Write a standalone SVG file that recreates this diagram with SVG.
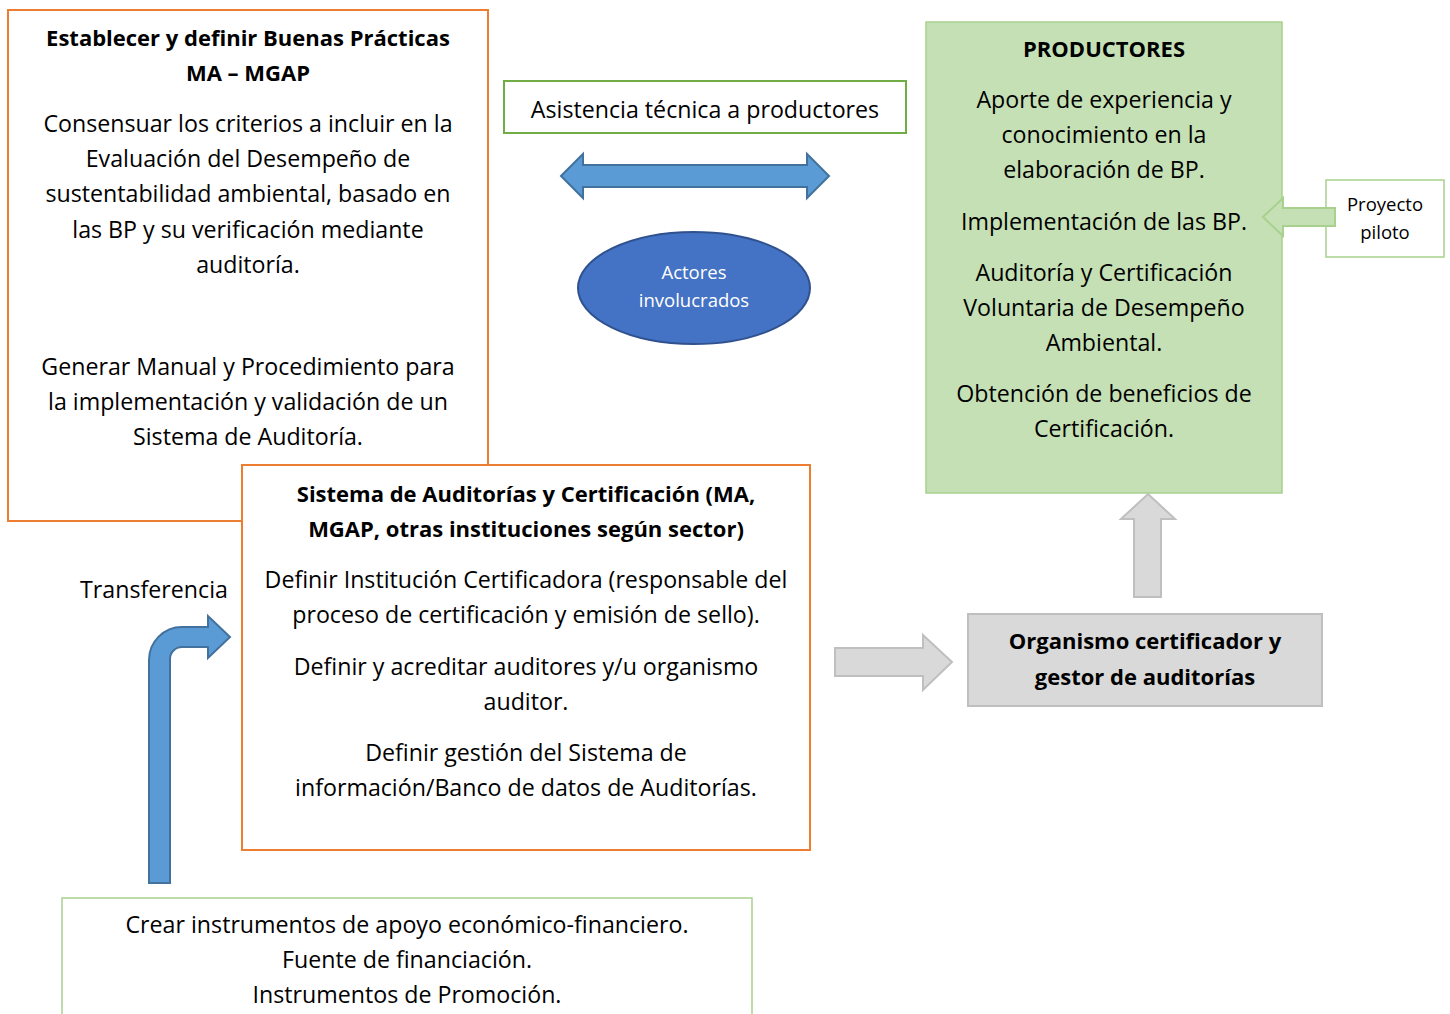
<svg xmlns="http://www.w3.org/2000/svg" width="1450" height="1014" viewBox="0 0 1450 1014">
<style>
text{font-family:"Open Sans",Lato,"Liberation Sans",sans-serif;font-size:23.2px;fill:#000;text-anchor:middle}
.b{font-weight:bold;font-size:22px}
.sm{font-size:18.5px}
.w{fill:#fff}
.orange{fill:#fff;stroke:#ED7D31;stroke-width:2}
.grn{fill:#fff;stroke:#70AD47;stroke-width:2}
.lgrn{fill:#fff;stroke:#A9D18E;stroke-width:1.5}
.blue{fill:#5B9BD5;stroke:#41719C;stroke-width:2}
.grey{fill:#D9D9D9;stroke:#BFBFBF;stroke-width:2}
</style>
<rect width="1450" height="1014" fill="#fff"/>
<g id="buenas-practicas">
<rect class="orange" x="8" y="10" width="480" height="511"/>
<text class="b" x="248" y="46">Establecer y definir Buenas Prácticas</text>
<text class="b" x="248" y="81">MA – MGAP</text>
<text x="248" y="132">Consensuar los criterios a incluir en la</text>
<text x="248" y="167">Evaluación del Desempeño de</text>
<text x="248" y="202">sustentabilidad ambiental, basado en</text>
<text x="248" y="238">las BP y su verificación mediante</text>
<text x="248" y="273">auditoría.</text>
<text x="248" y="375">Generar Manual y Procedimiento para</text>
<text x="248" y="410">la implementación y validación de un</text>
<text x="248" y="445">Sistema de Auditoría.</text>
</g>
<g id="sistema-auditorias">
<rect class="orange" x="242" y="465" width="568" height="385"/>
<text class="b" x="526" y="502">Sistema de Auditorías y Certificación (MA,</text>
<text class="b" x="526" y="537">MGAP, otras instituciones según sector)</text>
<text x="526" y="588">Definir Institución Certificadora (responsable del</text>
<text x="526" y="623">proceso de certificación y emisión de sello).</text>
<text x="526" y="675">Definir y acreditar auditores y/u organismo</text>
<text x="526" y="710">auditor.</text>
<text x="526" y="761">Definir gestión del Sistema de</text>
<text x="526" y="796">información/Banco de datos de Auditorías.</text>
</g>
<g id="asistencia">
<rect class="grn" x="504" y="81" width="402" height="52"/>
<text x="705" y="118">Asistencia técnica a productores</text>
</g>
<g id="actores">
<ellipse cx="694" cy="288" rx="116" ry="56" fill="#4472C4" stroke="#2F528F" stroke-width="2"/>
<text class="sm w" x="694" y="279">Actores</text>
<text class="sm w" x="694" y="307">involucrados</text>
</g>
<g id="productores">
<rect x="926" y="22" width="356" height="471" fill="#C5E0B4" stroke="#A9D18E" stroke-width="1.5"/>
<text class="b" x="1104" y="57">PRODUCTORES</text>
<text x="1104" y="108">Aporte de experiencia y</text>
<text x="1104" y="143">conocimiento en la</text>
<text x="1104" y="178">elaboración de BP.</text>
<text x="1104" y="230">Implementación de las BP.</text>
<text x="1104" y="281">Auditoría y Certificación</text>
<text x="1104" y="316">Voluntaria de Desempeño</text>
<text x="1104" y="351">Ambiental.</text>
<text x="1104" y="402">Obtención de beneficios de</text>
<text x="1104" y="437">Certificación.</text>
</g>
<g id="proyecto-piloto">
<rect class="lgrn" x="1326" y="180" width="118" height="77"/>
<text class="sm" x="1385" y="211">Proyecto</text>
<text class="sm" x="1385" y="239">piloto</text>
</g>
<g id="organismo">
<rect class="grey" x="968" y="614" width="354" height="92"/>
<text class="b" x="1145" y="649">Organismo certificador y</text>
<text class="b" x="1145" y="685">gestor de auditorías</text>
</g>
<g id="financiamiento">
<path d="M62,1014 L62,898 L752,898 L752,1014" fill="#fff" stroke="#A9D18E" stroke-width="1.5"/>
<text x="407" y="933">Crear instrumentos de apoyo económico-financiero.</text>
<text x="407" y="968">Fuente de financiación.</text>
<text x="407" y="1003">Instrumentos de Promoción.</text>
</g>
<g id="transferencia-label">
<text x="154" y="598">Transferencia</text>
</g>
<g id="connectors">
<path class="blue" d="M561,176 L583,154 L583,165 L807,165 L807,154 L829,176 L807,198 L807,187 L583,187 L583,198 Z"/>
<path d="M1263,217 L1283,198 L1283,208 L1335,208 L1335,226 L1283,226 L1283,236 Z" fill="#C5E0B4" stroke="#A9D18E" stroke-width="2"/>
<path class="grey" d="M1148,494 L1175,519 L1161,519 L1161,597 L1134,597 L1134,519 L1121,519 Z"/>
<path class="grey" d="M835,648 L923,648 L923,635 L952,662 L923,690 L923,676 L835,676 Z"/>
<path class="blue" d="M149,883 L149,660 A33,33 0 0 1 182,627 L208,627 L208,616 L230,637 L208,658 L208,647 L182,647 A12,12 0 0 0 170,659 L170,883 Z"/>
</g>
</svg>
